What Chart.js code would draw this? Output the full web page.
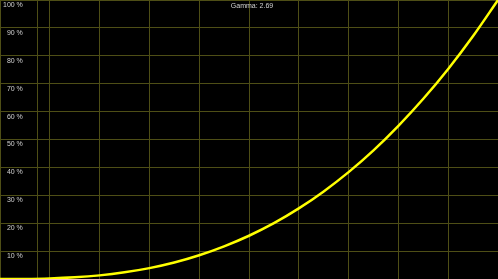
<!DOCTYPE html>
<html>
<head>
<meta charset="utf-8">
<script src="https://cdn.jsdelivr.net/npm/chart.js@4/dist/chart.umd.min.js"></script>
<style>
  html,body{margin:0;padding:0;background:#000;}
  #wrap{width:498px;height:279px;position:relative;}
</style>
</head>
<body>
<div id="wrap"><canvas id="chart"></canvas></div>
<script>
// input level (%) and output level (%)
const inputLevels=[0,5,10,15,20,25,30,35,40,45,50,55,60,65,70,75,80,85,90,95,100];
const outputLevels=[0,0.03,0.2,0.6,1.3,2.4,3.9,5.9,8.5,11.7,15.5,20.0,25.3,31.4,38.3,46.1,54.9,64.6,75.3,87.1,100];
const yTickValues=[10,20,30,40,50,60,70,80,90,100];
const titleText='Gamma: 2.69';

const gridColor='#4e4e16';
const textColor='#d2d2d2';

// title drawn over the plot, it doesn't take layout space
const overlayTitle={
  id:'overlayTitle',
  afterDraw(c){
    const ctx=c.ctx;
    ctx.save();
    ctx.font='7px "Liberation Sans", Arial, sans-serif';
    ctx.fillStyle=textColor;
    ctx.textAlign='center';
    ctx.textBaseline='middle';
    ctx.fillText(titleText,(c.chartArea.left+c.chartArea.right)/2+3,6);
    ctx.restore();
  }
};

// axes shouldn't eat any room: plot fills the whole canvas
function noRoom(s){
  s.paddingTop=0;s.paddingBottom=0;s.paddingLeft=0;s.paddingRight=0;
  if(s.isHorizontal()) s.height=0; else s.width=0;
}

const chart=document.querySelector('#chart').getContext('2d');

new Chart(chart,{
  type:'line',
  data:{
    datasets:[{
      label:'gamma',
      data:inputLevels.map((x,i)=>({x:x,y:outputLevels[i]})),
      borderColor:'#ffff00',
      borderWidth:2.5,
      pointRadius:0,
      cubicInterpolationMode:'monotone'
    }]
  },
  options:{
    responsive:true,
    maintainAspectRatio:false,
    animation:false,
    layout:{padding:0},
    plugins:{legend:{display:false},tooltip:{enabled:false}},
    scales:{
      x:{
        type:'linear',
        min:0,max:100,
        border:{display:false},
        ticks:{display:false,stepSize:10},
        afterBuildTicks(s){
          s.ticks.push({value:7.5});
        },
        afterFit:noRoom,
        grid:{color:gridColor,drawTicks:false}
      },
      y:{
        type:'linear',
        min:0,max:100,
        border:{display:false},
        afterBuildTicks(s){
          s.ticks=[{value:0}].concat(yTickValues.map(v=>({value:v})));
        },
        afterFit:noRoom,
        ticks:{
          mirror:true,
          crossAlign:'far',
          padding:3,
          labelOffset:5,
          color:textColor,
          font:{family:'"Liberation Sans", Arial, sans-serif',size:7},
          callback:v=>v===0?'':v+' %'
        },
        grid:{color:gridColor,drawTicks:false}
      }
    }
  },
  plugins:[overlayTitle]
});
</script>
</body>
</html>
